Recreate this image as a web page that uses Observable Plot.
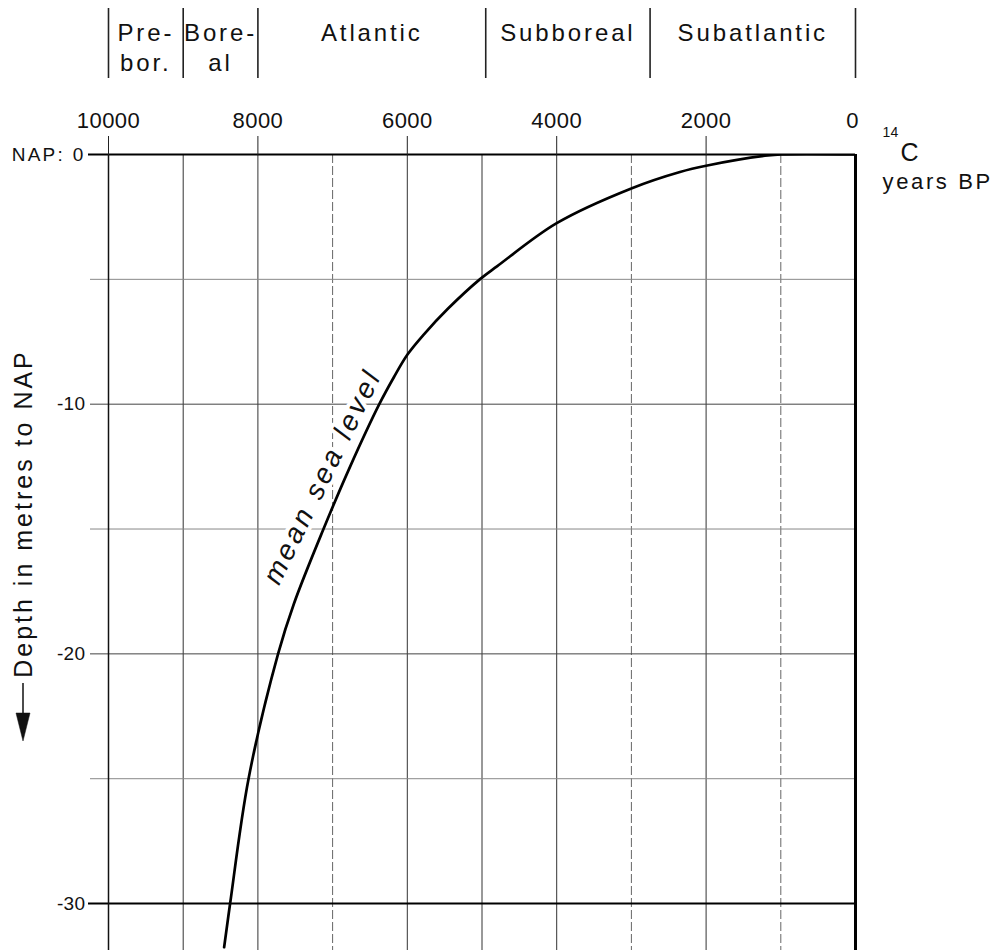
<!DOCTYPE html>
<html><head><meta charset="utf-8">
<script src="https://cdn.jsdelivr.net/npm/d3@7"></script>
<script src="https://cdn.jsdelivr.net/npm/@observablehq/plot@0.6"></script>
<style>body{margin:0;background:#fff}</style>
</head><body><div id="chart"></div>
<script>
// ---- data ----
const years = [8452, 8372, 8125, 7730, 7519, 7122, 6770, 6375, 6178, 6000, 5783, 5454, 5030, 4795, 4000, 2993, 2350, 2000, 1173, 1000, 0];
const depth = [-31.75, -30, -25, -20, -18.0, -15, -12.53, -10, -8.91, -8.02, -7.22, -6.17, -5.0, -4.47, -2.75, -1.35, -0.70, -0.45, -0.04, 0, 0];

const periodNames = ["Pre-\nbor.", "Bore-\nal", "Atlantic", "Subboreal", "Subatlantic"];
const periodStart = [10000, 9000, 8000, 4950, 2750];
const periodEnd   = [9000, 8000, 4950, 2750, 0];

const xTickYears = [10000, 8000, 6000, 4000, 2000];
const xEndTick = [0];
const solidGridYears = [9000, 8000, 6000, 5000, 4000, 2000];
const dashedGridYears = [7000, 3000, 1000];
const heavyDepths = [0, -30];
const midDepths = [-10, -20];
const lightDepths = [-5, -15, -25];
const depthLabels = {"0": "NAP: 0", "-10": "-10", "-20": "-20", "-30": "-30"};

const curveLabel = ["mean sea level"];
const curveLabelYear = [7135];
const curveLabelDepth = [-12.9];

const yTitle = "Depth in metres to NAP";
const unitSup = "14", unitMain = "C", unitLine2 = "years BP";

// ---- build ----
const curve = years.map((y, i) => ({year: y, depth: depth[i]}));
const periods = periodNames.map((n, i) => ({name: n, mid: (periodStart[i] + periodEnd[i]) / 2}));
const periodBounds = Array.from(new Set([...periodStart, ...periodEnd]));
const labels = curveLabel.map((t, i) => ({text: t, year: curveLabelYear[i], depth: curveLabelDepth[i]}));

const W = 1004, H = 950, mT = 154, mL = 108, mR = 149, mB = 0;
const font = "'Liberation Sans', Arial, Helvetica, sans-serif";

const chart = Plot.plot({
  width: W, height: H,
  marginTop: mT, marginLeft: mL, marginRight: mR, marginBottom: mB,
  x: {domain: [10000, 0], axis: null},
  y: {domain: [-31.88, 0], axis: null},
  style: {fontFamily: font, background: "#fff", color: "#111", overflow: "visible"},
  marks: [
    // grid
    Plot.ruleX(dashedGridYears, {stroke: "#666", strokeWidth: 1, strokeDasharray: "9,3"}),
    Plot.ruleX(solidGridYears, {stroke: "#333", strokeWidth: 1}),
    Plot.ruleY(lightDepths, {stroke: "#888", strokeWidth: 1, insetLeft: -18}),
    Plot.ruleY(midDepths, {stroke: "#444", strokeWidth: 1, insetLeft: -18}),
    Plot.ruleY(heavyDepths, {stroke: "#000", strokeWidth: 2, insetLeft: -20}),
    Plot.ruleX([10000], {stroke: "#111", strokeWidth: 1.5}),
    Plot.ruleX([0], {stroke: "#000", strokeWidth: 3}),
    // axes
    Plot.axisX({anchor: "top", ticks: xTickYears, tickSize: 19, tickPadding: 8, stroke: "#222", fill: "#111",
      fontSize: 22, tickFormat: d3.format("d"), label: null}),
    Plot.axisX({anchor: "top", ticks: xEndTick, tickSize: 0, tickPadding: 27, fill: "#111",
      fontSize: 22, tickFormat: d3.format("d"), dx: -3, label: null}),
    Plot.axisY({ticks: heavyDepths.concat(midDepths), tickSize: 0, tickPadding: 23, fill: "#111", fontSize: 19,
      tickFormat: d => depthLabels[String(d)], label: null}),
    // period header
    Plot.ruleX(periodBounds, {stroke: "#222", strokeWidth: 1.6, insetTop: 8 - mT, insetBottom: H - 78}),
    Plot.text(periods, {x: "mid", text: "name", frameAnchor: "top", dy: 20 - mT, lineAnchor: "top",
      fontSize: 24, lineHeight: 1.22, fill: "#111"}),
    // unit label
    Plot.text([unitSup], {frameAnchor: "top-right", dx: 27, dy: -27, textAnchor: "start", fontSize: 14, fill: "#111"}),
    Plot.text([unitMain], {frameAnchor: "top-right", dx: 45, dy: -11, textAnchor: "start", fontSize: 25, fill: "#111"}),
    Plot.text([unitLine2], {frameAnchor: "top-right", dx: 27, dy: 19, textAnchor: "start", fontSize: 22, fill: "#111"}),
    // y title
    Plot.text([yTitle], {frameAnchor: "left", dx: -85, dy: -39, rotate: -90, textAnchor: "middle", fontSize: 25, fill: "#111"}),
    // curve label
    Plot.text(labels, {x: "year", y: "depth", text: "text", rotate: -64, fontSize: 28, fontStyle: "italic",
      fill: "#111", stroke: "#fff", strokeWidth: 8, paintOrder: "stroke"}),
    // curve
    Plot.line(curve, {x: "year", y: "depth", curve: "catmull-rom", stroke: "#000", strokeWidth: 2.7, clip: true})
  ]
});

// letter spacing (typographic tracking of the original)
d3.select(chart).selectAll("text").each(function() {
  const t = this.textContent;
  const sp = /[A-Za-z]/.test(t) ? "0.12em" : "0.02em";
  d3.select(this).attr("letter-spacing", sp);
  d3.select(this).selectAll("tspan").attr("letter-spacing", sp);
});

// arrow of the y title
const ax = mL - 85, frameMid = mT + (H - mT - mB) / 2;
const tip = frameMid + 189;
const g = d3.select(chart).append("g").attr("fill", "#111").attr("stroke", "#111");
g.append("line").attr("x1", ax).attr("x2", ax).attr("y1", tip - 58).attr("y2", tip - 26).attr("stroke-width", 1.5);
g.append("path").attr("d", `M${ax - 7},${tip - 28}L${ax + 7},${tip - 28}L${ax},${tip}Z`).attr("stroke-width", 0.5);

document.getElementById("chart").appendChild(chart);
</script>
</body></html>
